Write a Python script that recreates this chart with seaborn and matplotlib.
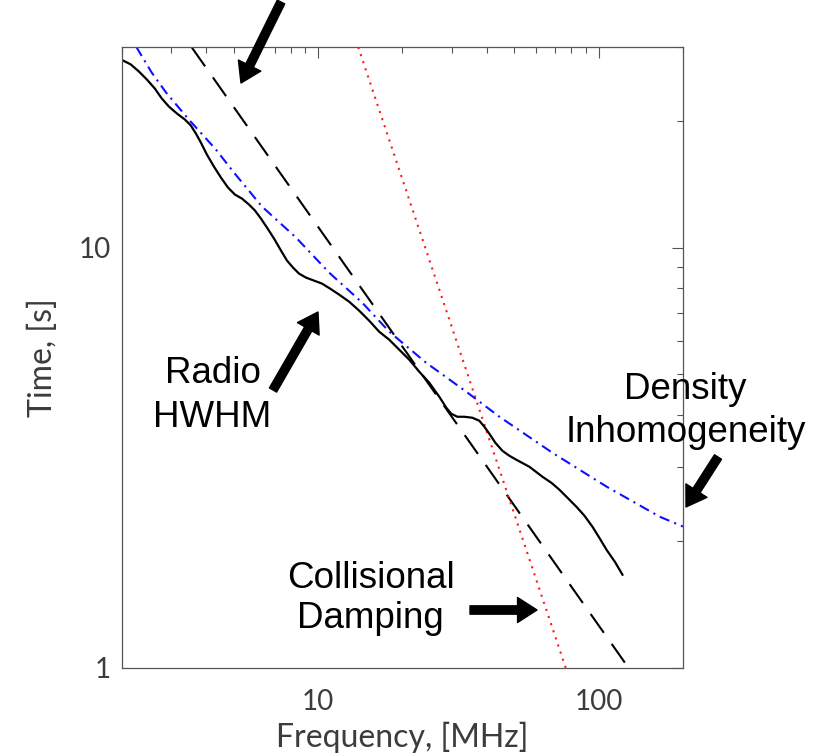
import numpy as np
import pandas as pd
import matplotlib
matplotlib.use("Agg")
import matplotlib.pyplot as plt
import seaborn as sns
from matplotlib.ticker import FixedLocator, FixedFormatter, NullFormatter, LogLocator

# ---------------- data ----------------
hwhm_freq = [2.012, 2.149, 2.295, 2.451, 2.617, 2.772, 2.937, 3.136, 3.350, 3.519,
             3.667, 3.821, 4.014, 4.252, 4.504, 4.771, 5.053, 5.353, 5.670,
             5.957, 6.258, 6.574, 6.964, 7.377, 7.750, 8.142, 8.553, 9.060, 9.676,
             10.33, 11.04, 11.89, 12.90, 14.01, 15.21, 16.51,
             17.93, 19.47, 21.14, 22.95, 24.91, 27.05, 28.65, 29.85, 31.36, 33.22,
             35.48, 37.58, 39.16, 40.81, 42.87, 45.41, 48.10, 50.95,
             56.70, 63.10, 67.94, 72.56, 77.50, 83.45, 89.13, 95.19, 100.8, 106.8,
             114.4, 121.8]
hwhm_time = [27.88, 27.27, 26.25, 25.12, 23.91, 22.63, 21.66, 20.85, 20.17, 19.52,
             18.68, 17.78, 16.65, 15.59, 14.68, 13.90, 13.37, 13.08, 12.66,
             12.25, 11.72, 11.16, 10.51, 9.837, 9.312, 8.962, 8.672, 8.483, 8.345,
             8.209, 7.987, 7.729, 7.438, 7.080, 6.702, 6.310,
             6.039, 5.717, 5.412, 5.067, 4.771, 4.418, 4.160, 4.025, 3.959, 3.959,
             3.938, 3.874, 3.748, 3.607, 3.433, 3.286, 3.197, 3.128,
             3.010, 2.850, 2.757, 2.654, 2.540, 2.417, 2.301, 2.166, 2.037, 1.910,
             1.788, 1.665]

dens_freq = [2.25, 2.55, 2.87, 3.46, 4.32, 5.01, 6.31, 8.35, 10.95, 14.36, 17.93,
             24.3, 33.78, 44.3, 68.5, 106.8, 165.2, 200.0]
dens_time = [30.0, 26.1, 23.39, 20.17, 17.12, 15.09, 12.52, 10.56, 8.72, 7.40, 6.31,
             5.32, 4.54, 3.96, 3.25, 2.70, 2.29, 2.17]

coll_freq = [13.9, 76.4]
coll_time = [30.0, 1.0]

dash_freq = [3.55, 128.0]
dash_time = [29.9, 1.0]

x_ticks = [10, 100]
x_tick_labels = ["10", "100"]
y_ticks = [1, 10]
y_tick_labels = ["1", "10"]

# ---------------- figure ----------------
sns.set_style("white")
W, H = 814, 754
fig = plt.figure(figsize=(W / 100, H / 100), dpi=100)
ax = fig.add_axes([122 / W, 1 - 668 / H, (683 - 122) / W, (668 - 47) / H])

sns.lineplot(x=dash_freq, y=dash_time, ax=ax, color="black", lw=1.5,
             linestyle=(0, (11, 6.5)), sort=False, estimator=None)
sns.lineplot(x=coll_freq, y=coll_time, ax=ax, color="#ff1a1a", lw=1.5,
             linestyle=(0, (1, 2.6)), sort=False, estimator=None)
sns.lineplot(x=dens_freq, y=dens_time, ax=ax, color="#1010ff", lw=1.5,
             linestyle=(0, (5, 2.5, 1, 2.5)), sort=False, estimator=None)
sns.lineplot(x=hwhm_freq, y=hwhm_time, ax=ax, color="black", lw=1.6,
             sort=False, estimator=None)

ax.set_xscale("log")
ax.set_yscale("log")
ax.set_xlim(2, 200)
ax.set_ylim(1, 30)

gray = "#555555"
txt_gray = "#3c3c3c"
label_family = ["Lato", "DejaVu Sans"]

ax.xaxis.set_major_locator(FixedLocator(x_ticks))
ax.xaxis.set_major_formatter(FixedFormatter(x_tick_labels))
ax.yaxis.set_major_locator(FixedLocator(y_ticks))
ax.yaxis.set_major_formatter(FixedFormatter(y_tick_labels))
ax.xaxis.set_minor_locator(LogLocator(base=10, subs=np.arange(2, 10), numticks=50))
ax.yaxis.set_minor_locator(LogLocator(base=10, subs=np.arange(2, 10), numticks=50))
ax.xaxis.set_minor_formatter(NullFormatter())
ax.yaxis.set_minor_formatter(NullFormatter())

ax.tick_params(which="both", direction="in", top=True, right=True,
               color=gray, width=0.8)
ax.tick_params(which="major", length=8)
ax.tick_params(which="minor", length=4)
ax.tick_params(axis="x", which="major", pad=15)
ax.tick_params(axis="y", which="major", pad=8)
for lab in ax.get_xticklabels() + ax.get_yticklabels():
    lab.set_fontfamily(label_family)
    lab.set_fontweight("normal")
    lab.set_fontsize(20)
    lab.set_color(txt_gray)

for s in ax.spines.values():
    s.set_color(gray)
    s.set_linewidth(0.9)

ax.set_xlabel("Frequency, [MHz]", fontsize=23, family=label_family,
              color=txt_gray)
ax.set_ylabel("Time, [s]", fontsize=23, family=label_family, color=txt_gray)
ax.xaxis.set_label_coords(0.5, -0.086)
ax.yaxis.set_label_coords(-0.114, 0.5)


def P(x, y):
    return (x, H - y)


ann_font = dict(family=["Liberation Sans", "DejaVu Sans"], fontsize=26.5,
                color="black", ha="center", va="baseline")
for txt, (x, y) in [("Radio", (213, 383)), ("HWHM", (212, 427)),
                    ("Density", (685, 399)), ("Inhomogeneity", (686, 442)),
                    ("Collisional", (371, 588)), ("Damping", (370, 628))]:
    fig.text(x / W, 1 - y / H, txt, **ann_font)

arrow = dict(facecolor="black", edgecolor="black", width=6, headwidth=18,
             headlength=14, shrink=0)
for tail, tip in [((281, 2), (241, 83)), ((273, 390), (318, 312)),
                  ((718, 457), (686, 507)), ((470, 610), (537, 610))]:
    ax.annotate("", xy=P(*tip), xycoords="figure pixels",
                xytext=P(*tail), textcoords="figure pixels",
                arrowprops=arrow, annotation_clip=False)

fig.savefig("out.png", dpi=100)
